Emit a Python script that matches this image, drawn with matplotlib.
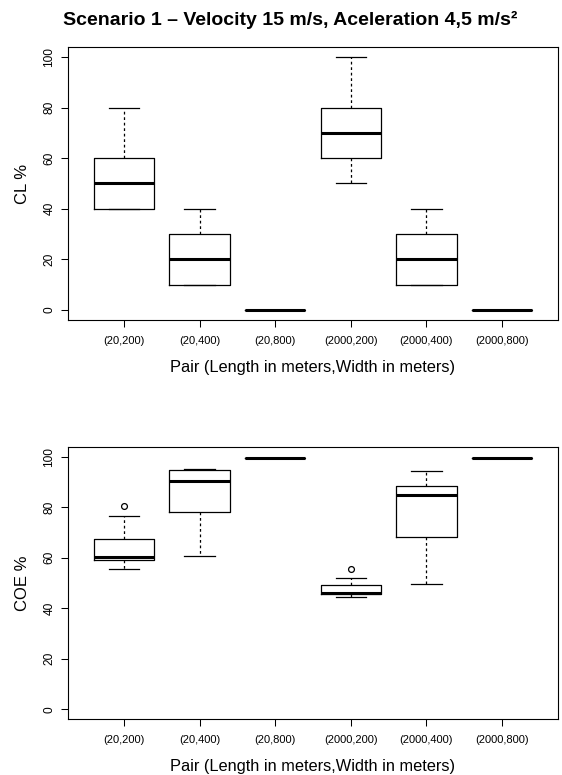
import matplotlib
matplotlib.use("Agg")
import matplotlib.pyplot as plt

plt.rcParams['font.family'] = ['Liberation Sans', 'DejaVu Sans']

pairs = ["(20,200)", "(20,400)", "(20,800)", "(2000,200)", "(2000,400)", "(2000,800)"]

# CL % five-number summaries per pair
cl_whislo = [40, 10, 0, 50, 10, 0]
cl_q1 = [40, 10, 0, 60, 10, 0]
cl_med = [50, 20, 0, 70, 20, 0]
cl_q3 = [60, 30, 0, 80, 30, 0]
cl_whishi = [80, 40, 0, 100, 40, 0]
cl_fliers = [[], [], [], [], [], []]

# COE % five-number summaries per pair
coe_whislo = [55.4, 60.6, 99.7, 44.6, 49.7, 99.7]
coe_q1 = [59.0, 78.3, 99.7, 45.6, 68.1, 99.7]
coe_med = [60.4, 90.3, 99.7, 46.0, 85.0, 99.7]
coe_q3 = [67.6, 94.8, 99.7, 49.3, 88.3, 99.7]
coe_whishi = [76.6, 95.1, 99.7, 52.0, 94.2, 99.7]
coe_fliers = [[80.6], [], [], [55.7], [], []]

title = "Scenario 1 \u2013 Velocity 15 m/s, Aceleration 4,5 m/s\u00b2"
xlabel = "Pair (Length in meters,Width in meters)"
yticks = [0, 20, 40, 60, 80, 100]

W, H = 562, 775
fig = plt.figure(figsize=(W / 100, H / 100), dpi=100)


def stats(lo, q1, med, q3, hi, fl):
    return [dict(whislo=a, q1=b, med=c, q3=d, whishi=e, fliers=f)
            for a, b, c, d, e, f in zip(lo, q1, med, q3, hi, fl)]


def panel(rect, st, ylabel):
    ax = fig.add_axes(rect)
    ax.bxp(st, positions=range(1, len(st) + 1), widths=0.8, capwidths=0.4,
           boxprops=dict(color='black', lw=0.9),
           medianprops=dict(color='black', lw=2.2, solid_capstyle='butt'),
           whiskerprops=dict(color='black', lw=0.9, dashes=(2.2, 2.2)),
           capprops=dict(color='black', lw=0.9),
           flierprops=dict(marker='o', markerfacecolor='none',
                           markeredgecolor='black', markersize=4.2, mew=0.9))
    ax.set_xlim(0.26, 6.74)
    ax.set_ylim(-4, 104)
    ax.set_xticks(range(1, len(pairs) + 1))
    ax.set_xticklabels(pairs, fontsize=8)
    ax.set_yticks(yticks)
    ax.set_yticklabels([str(v) for v in yticks], fontsize=8.6, rotation=90,
                       va='center')
    ax.tick_params(axis='both', direction='out', length=5, width=0.75,
                   color='black')
    ax.tick_params(axis='x', pad=6.5)
    ax.tick_params(axis='y', pad=4)
    for s in ax.spines.values():
        s.set_linewidth(0.8)
        s.set_color('black')
    ax.set_xlabel(xlabel, fontsize=11.8, labelpad=10)
    ax.set_ylabel(ylabel, fontsize=12, labelpad=10)
    return ax


panel([68 / W, 1 - 320 / H, 490 / W, 273 / H],
      stats(cl_whislo, cl_q1, cl_med, cl_q3, cl_whishi, cl_fliers), "CL %")
panel([68 / W, 1 - 719.3 / H, 490 / W, 272.6 / H],
      stats(coe_whislo, coe_q1, coe_med, coe_q3, coe_whishi, coe_fliers), "COE %")

fig.text(290 / W, 1 - 20 / H, title, ha='center', va='center',
         fontsize=14, fontweight='bold')

fig.savefig("out.png", dpi=100)
